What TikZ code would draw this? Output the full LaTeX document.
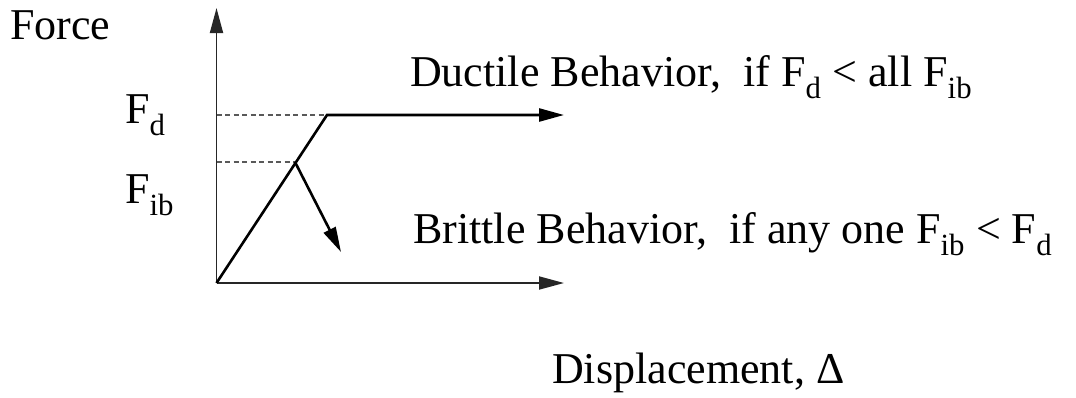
\documentclass[tikz,border=0pt]{standalone}
\usepackage{fontspec}
\setmainfont{Liberation Serif}
\usetikzlibrary{arrows.meta}
\tikzset{
  tip/.style={-{Triangle[length=25pt,width=13pt]}},
  axis/.style={line width=1.8pt, draw=black!85, tip},
  curvearrow/.style={line width=2.6pt, tip},
  guide/.style={line width=1.8pt, draw=black!65, dash pattern=on 5pt off 3.5pt},
  lbl/.style={inner sep=0pt, anchor=base west, font=\fontsize{44}{50}\selectfont}
}
\begin{document}
\begin{tikzpicture}[x=1pt, y=-1pt]
  \useasboundingbox (0,0) rectangle (1076,397);
  % key points of the force-displacement diagram
  \coordinate (O) at (216.5,283);
  \coordinate (ytip) at (216.5,8);
  \coordinate (xtip) at (564,283);
  \coordinate (yield) at (327,115);
  \coordinate (dtip) at (564,115);
  \coordinate (peak) at (295,162);
  \coordinate (btip) at (341,252);
  \coordinate (fdaxis) at (216.5,115);
  \coordinate (fibaxis) at (216.5,162);
  % axes
  \draw[axis] (O) -- (ytip);
  \draw[axis] (O) -- (xtip);
  % guide lines to the force levels
  \draw[guide] (fdaxis) -- (yield);
  \draw[guide] (fibaxis) -- (peak);
  % ductile and brittle responses
  \draw[curvearrow] (O) -- (yield) -- (dtip);
  \draw[curvearrow] (peak) -- (btip);
  % labels
  \node[lbl] (force) at (10,39) {Force};
  \node[lbl] (fd) at (125,123) {F\textsubscript{d}};
  \node[lbl] (fib) at (125,203) {F\textsubscript{ib}};
  \node[lbl] (ductile) at (410,86) {Ductile Behavior,\ \ if F\textsubscript{d} < all F\textsubscript{ib}};
  \node[lbl] (brittle) at (413,243) {Brittle Behavior,\ \ if any one F\textsubscript{ib} < F\textsubscript{d}};
  \node[lbl] (disp) at (552,383) {Displacement, Δ};
\end{tikzpicture}
\end{document}
